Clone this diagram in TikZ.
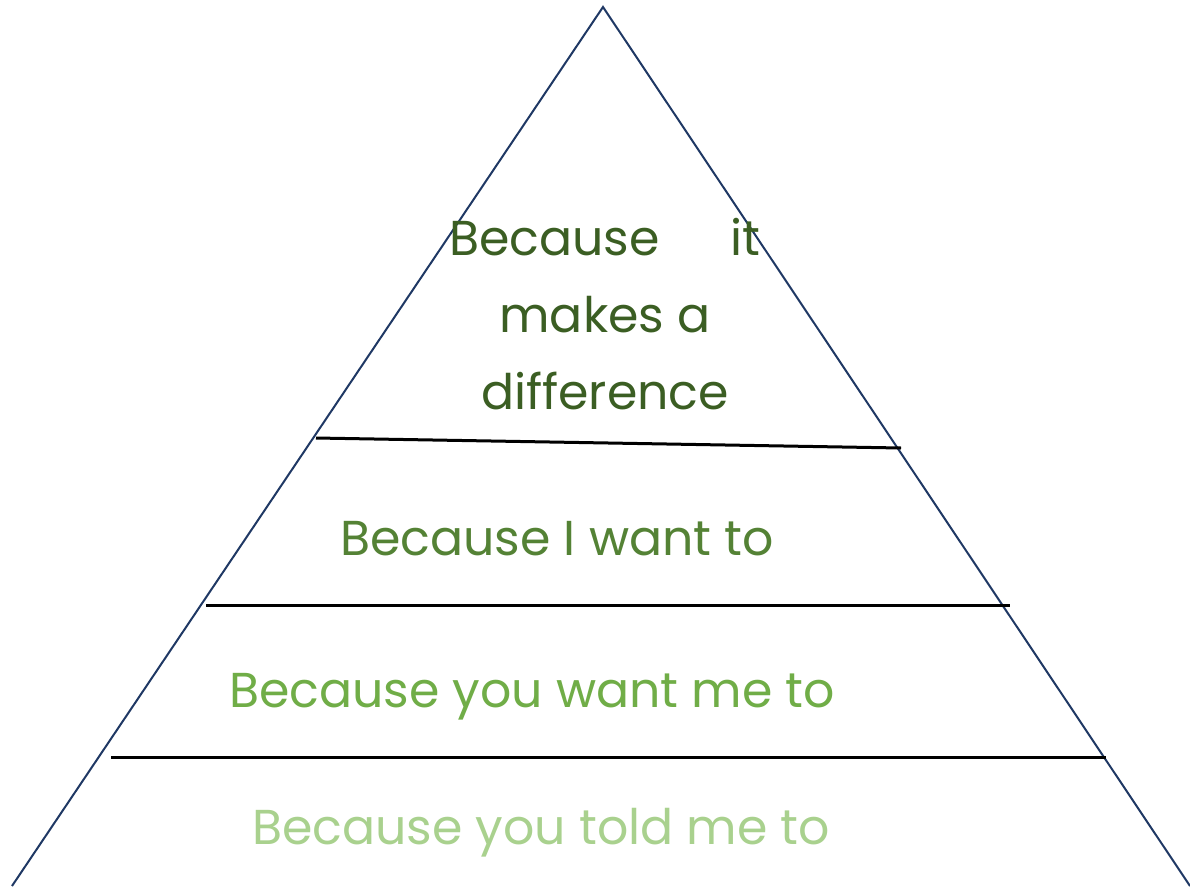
\documentclass[tikz,border=0pt]{standalone}
\usepackage{fontspec}
\setmainfont{Poppins}
\definecolor{navy}{HTML}{1F3864}
\definecolor{gA}{HTML}{3B5E23}
\definecolor{gB}{HTML}{548235}
\definecolor{gC}{HTML}{70AD47}
\definecolor{gD}{HTML}{A9D18E}
\tikzset{
  tri/.style={draw=navy, line width=2pt, line join=miter},
  divider/.style={draw=black, line width=3pt},
  lbl/.style={inner sep=0pt, font=\fontsize{49}{77}\selectfont, align=center},
}
\begin{document}
\begin{tikzpicture}[x=1pt,y=-1pt]
\useasboundingbox (0,0) rectangle (1190,886);
\coordinate (apex) at (603,7);
\coordinate (bl) at (12,886);
\coordinate (br) at (1190,886);
\draw[tri] (bl) -- (apex) -- (br);
\coordinate (d1l) at (316,438); \coordinate (d1r) at (901,448);
\coordinate (d2l) at (206,605); \coordinate (d2r) at (1010,605);
\coordinate (d3l) at (111,757); \coordinate (d3r) at (1106,757);
\draw[divider] (d1l) -- (d1r);
\draw[divider] (d2l) -- (d2r);
\draw[divider] (d3l) -- (d3r);
\node[lbl, text=gA] (t1) at (605,314) {Because\hspace{71pt}it\\makes a\\difference};
\node[lbl, text=gB] (t2) at (557,539) {Because I want to};
\node[lbl, text=gC] (t3) at (532,697) {Because you want me to};
\node[lbl, text=gD] (t4) at (541,833) {Because you told me to};
\end{tikzpicture}
\end{document}
